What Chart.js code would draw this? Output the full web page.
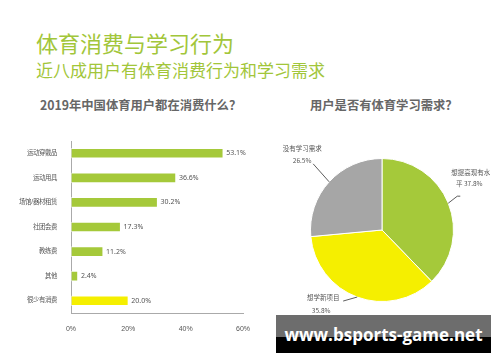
<!DOCTYPE html>
<html lang="zh-CN">
<head>
  <meta charset="UTF-8" />
  <title>体育消费与学习行为</title>
  <script src="https://cdn.jsdelivr.net/npm/chart.js"></script>
  <style>
    body { margin: 0; width: 500px; height: 362px; background: #fff; position: relative; overflow: hidden;
           font-family: "Noto Sans CJK SC", "Noto Sans", sans-serif; }
    .titulo { position: absolute; left: 36px; top: 31px; font-size: 22px; color: #a2c63a; line-height: 1; }
    .subtitulo { position: absolute; left: 36px; top: 61px; font-size: 17px; color: #a2c63a; line-height: 1; }
    .ctitle { position: absolute; top: 99px; font-size: 12.3px; font-weight: bold; color: #666; line-height: 1; white-space: nowrap; }
    #barBox { position: absolute; left: 0; top: 130px; width: 260px; height: 201px; }
    #pieBox { position: absolute; left: 270px; top: 130px; width: 224px; height: 200px; }
    .marca { position: absolute; left: 276px; top: 315px; width: 215px; height: 38px;
             background: linear-gradient(#6d6d6d 0, #6d6d6d 58%, #000 58%, #000 100%);
             color: #fff; font-family: "Open Sans", "DejaVu Sans", sans-serif; font-weight: bold; font-size: 17px;
             text-align: center; line-height: 40px; white-space: nowrap; }
  </style>
</head>
<body>
  <div class="titulo">体育消费与学习行为</div>
  <div class="subtitulo">近八成用户有体育消费行为和学习需求</div>
  <div class="ctitle" style="left:40px">2019年中国体育用户都在消费什么？</div>
  <div class="ctitle" style="left:310px">用户是否有体育学习需求？</div>

  <div id="barBox"><canvas id="barChart"></canvas></div>
  <div id="pieBox"><canvas id="pieChart"></canvas></div>

  <div class="marca">www.bsports-game.net</div>

  <script>
    // dados do gráfico de barras
    const categorias = ['运动穿戴品', '运动用具', '场馆/器材租赁', '社团会费', '教练费', '其他', '很少有消费'];
    const valores = [53.1, 36.6, 30.2, 17.3, 11.2, 2.4, 20.0];
    const eixoX = [0, 20, 40, 60];

    // dados da pizza
    const fatias = ['想提高现有水平', '想学新项目', '没有学习需求'];
    const fatiasValores = [37.8, 35.8, 26.5];

    const verde = '#a5c93a';
    const amarelo = '#f5ef00';
    const cinza = '#a6a6a6';

    const rotulosBarras = {
      id: 'rotulosBarras',
      afterDatasetsDraw(chart) {
        const ctx = chart.ctx;
        const meta = chart.getDatasetMeta(0);
        ctx.save();
        ctx.font = '7px "Noto Sans", sans-serif';
        ctx.fillStyle = '#555';
        ctx.textBaseline = 'middle';
        meta.data.forEach((bar, i) => {
          ctx.fillText(valores[i].toFixed(1) + '%', bar.x + 3, bar.y);
        });
        ctx.restore();
      }
    };

    new Chart(document.getElementById('barChart'), {
      type: 'bar',
      data: {
        labels: categorias,
        datasets: [{
          data: valores,
          backgroundColor: valores.map((v, i) => i === valores.length - 1 ? amarelo : verde),
          borderColor: 'rgba(255,255,255,0.55)',
          borderWidth: 1,
          borderSkipped: false,
          barThickness: 10
        }]
      },
      options: {
        indexAxis: 'y',
        responsive: true,
        maintainAspectRatio: false,
        animation: false,
        layout: { padding: { left: 0, right: 17, top: 11, bottom: 0 } },
        plugins: { legend: { display: false }, tooltip: { enabled: false } },
        scales: {
          x: {
            min: eixoX[0], max: eixoX[eixoX.length - 1],
            afterBuildTicks: s => { s.ticks = eixoX.map(v => ({ value: v })); },
            afterFit: s => { s.height = 18; },
            grid: { display: false },
            border: { display: true, color: '#aaa' },
            ticks: { color: '#555', font: { size: 7 }, padding: 4, callback: v => v + '%' }
          },
          y: {
            afterFit: s => { s.width = 71; },
            grid: { display: false },
            border: { display: true, color: '#aaa' },
            ticks: { color: '#555', font: { size: 6.4 }, padding: 6 }
          }
        }
      },
      plugins: [rotulosBarras]
    });

    // rótulos da pizza com linhas guia
    const rotulosPizza = {
      id: 'rotulosPizza',
      afterDatasetsDraw(chart) {
        const ctx = chart.ctx;
        const meta = chart.getDatasetMeta(0);
        const textos = [
          ['想提高现有水', '平 ' + fatiasValores[0] + '%'],
          ['想学新项目', fatiasValores[1] + '%'],
          ['没有学习需求', fatiasValores[2] + '%']
        ];
        // fim da linha guia e posição do texto relativos à borda
        const guias = [
          { lx: 12, ly: -7, tx: 3, ty: -31, align: 'left' },
          { lx: -14, ly: 4, tx: -34, ty: 0, align: 'center' },
          { lx: -16, ly: -18, tx: -27, ty: -33, align: 'center' }
        ];
        ctx.save();
        ctx.font = '6.5px "Noto Sans CJK SC", sans-serif';
        ctx.fillStyle = '#555';
        ctx.strokeStyle = '#333';
        ctx.lineWidth = 0.8;
        ctx.textBaseline = 'middle';
        meta.data.forEach((arc, i) => {
          const meio = (arc.startAngle + arc.endAngle) / 2;
          const ex = arc.x + Math.cos(meio) * arc.outerRadius;
          const ey = arc.y + Math.sin(meio) * arc.outerRadius;
          const g = guias[i];
          ctx.beginPath();
          ctx.moveTo(ex, ey);
          if (i === 0) {
            ctx.lineTo(ex + g.lx - 3, ey + g.ly);
            ctx.lineTo(ex + g.lx, ey + g.ly);
          } else {
            ctx.lineTo(ex + g.lx, ey + g.ly);
          }
          ctx.stroke();
          ctx.textAlign = g.align;
          const x = ex + g.tx;
          const y = ey + g.ty;
          if (i === 0) {
            ctx.fillText(textos[i][0], x, y);
            ctx.textAlign = 'center';
            ctx.fillText(textos[i][1], x + 18, y + 11);
          } else if (i === 1) {
            ctx.fillText(textos[i][0], x, y);
            ctx.fillText(textos[i][1], x - 2, y + 13);
          } else {
            ctx.fillText(textos[i][0], x, y);
            ctx.fillText(textos[i][1], x, y + 12);
          }
        });
        ctx.restore();
      }
    };

    new Chart(document.getElementById('pieChart'), {
      type: 'pie',
      data: {
        labels: fatias,
        datasets: [{
          data: fatiasValores,
          backgroundColor: [verde, amarelo, cinza],
          borderColor: '#fff',
          borderWidth: 1
        }]
      },
      options: {
        responsive: true,
        maintainAspectRatio: false,
        animation: false,
        layout: { padding: { left: 40, right: 40, top: 28, bottom: 28 } },
        plugins: { legend: { display: false }, tooltip: { enabled: false } }
      },
      plugins: [rotulosPizza]
    });
  </script>
</body>
</html>
